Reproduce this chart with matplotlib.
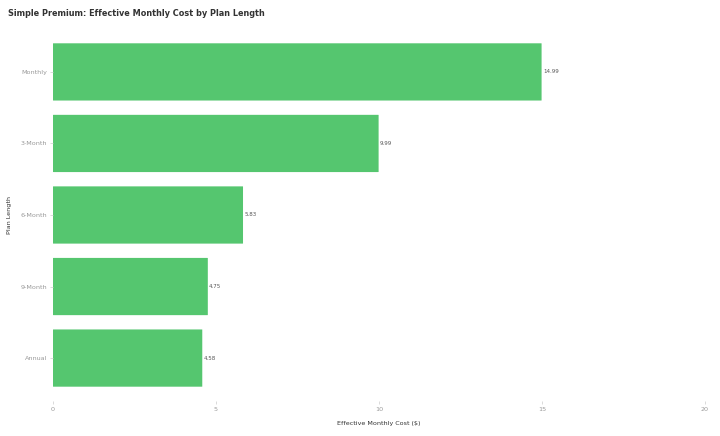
import numpy as np
import matplotlib.pyplot as plt
from matplotlib.patches import FancyBboxPatch

plans = ['Monthly', '3-Month', '6-Month', '9-Month', 'Annual']
costs = [14.99, 9.99, 5.83, 4.75, 4.58]
x_ticks = [0, 5, 10, 15, 20]

bar_color = '#55c66f'

fig = plt.figure(figsize=(7.2, 4.36), dpi=100)
ax = fig.add_axes([0.0736, 0.0803, 0.9054, 0.8532])

ypos = np.arange(len(plans))
bars = ax.barh(ypos, costs, height=0.8, color=bar_color)

# swap plain bars for slightly rounded ones
for b in bars:
    b.set_visible(False)
    p = FancyBboxPatch((b.get_x(), b.get_y()), b.get_width(), b.get_height(),
                       boxstyle='round,pad=0,rounding_size=0.04',
                       mutation_aspect=1/40, fc=bar_color, ec='none')
    ax.add_patch(p)

for y, v in zip(ypos, costs):
    ax.text(v + 0.04, y, f'{v:.2f}', va='center', ha='left', fontsize=4, color='#555555')

ax.set_xlim(0, 20)
ax.set_ylim(len(plans) - 0.4, -0.6)
ax.set_yticks(ypos)
ax.set_yticklabels(plans)
ax.set_xticks(x_ticks)
for s in ax.spines.values():
    s.set_visible(False)
ax.tick_params(axis='both', colors='#cccccc', labelcolor='#999999', labelsize=4.6,
               length=2, width=0.5, pad=2)

ax.set_xlabel('Effective Monthly Cost ($)', fontsize=4.6, color='#333333', labelpad=7)
ax.set_ylabel('Plan Length', fontsize=4.6, color='#333333', labelpad=6)

fig.text(0.011, 0.968, 'Simple Premium: Effective Monthly Cost by Plan Length',
         fontsize=5.9, fontweight='bold', color='#333333', ha='left', va='center')

fig.savefig('out.png', dpi=100, facecolor='white')
